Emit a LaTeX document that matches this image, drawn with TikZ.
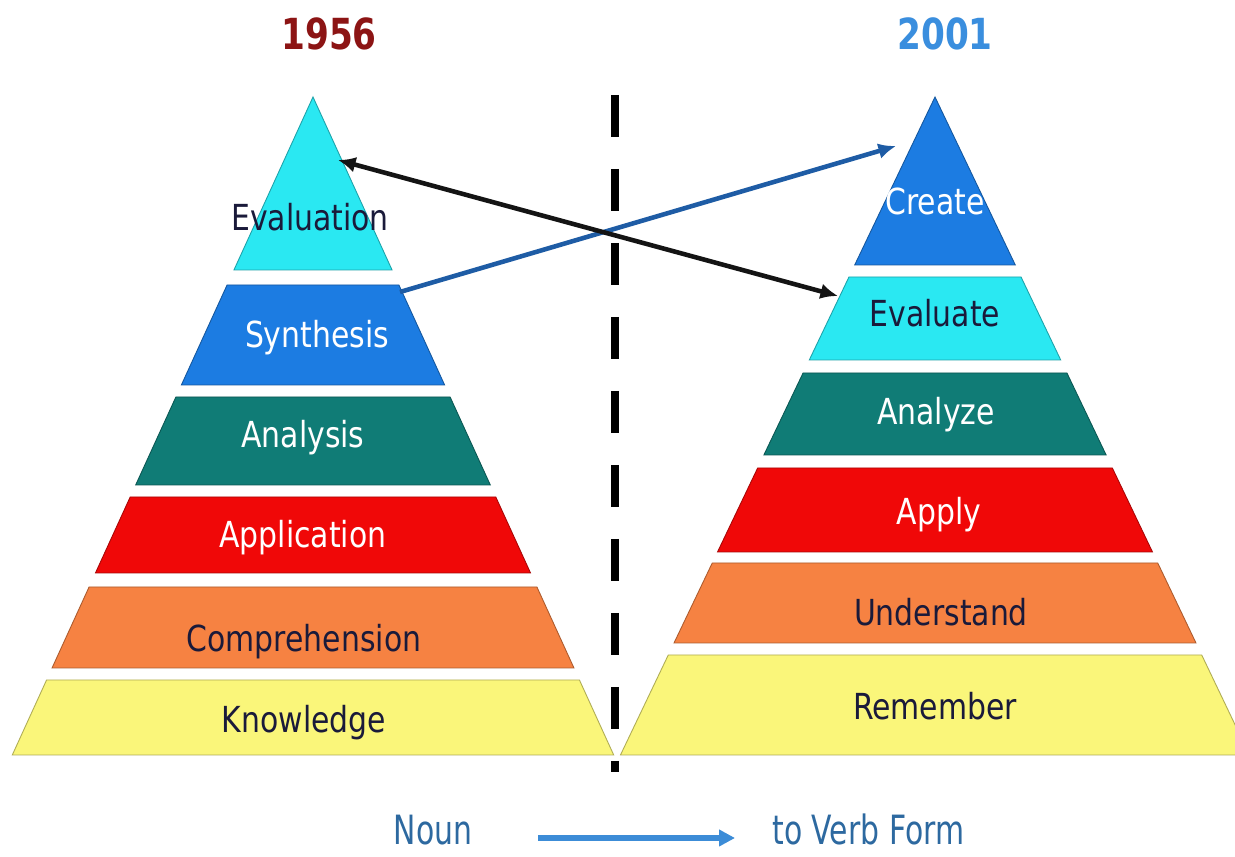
\documentclass[tikz,border=0pt]{standalone}
\usepackage{fontspec}
\setmainfont{DejaVu Sans}
\usetikzlibrary{arrows.meta}
\definecolor{cyanL}{RGB}{42,232,242}
\definecolor{blueL}{RGB}{28,124,226}
\definecolor{tealL}{RGB}{16,124,118}
\definecolor{redL}{RGB}{240,8,8}
\definecolor{orangeL}{RGB}{246,130,66}
\definecolor{yellowL}{RGB}{250,246,122}
\definecolor{darktxt}{RGB}{26,26,58}
\definecolor{titlered}{RGB}{140,20,20}
\definecolor{titleblue}{RGB}{58,142,222}
\definecolor{arrowblue}{RGB}{30,92,165}
\definecolor{botblue}{RGB}{60,140,215}
\definecolor{nountxt}{RGB}{45,105,160}
\newcommand{\tallA}[1]{\scalebox{1}[1.2]{#1}}
\newcommand{\tallB}[1]{\scalebox{1}[1.25]{#1}}
\newcommand{\tallC}[1]{\scalebox{1}[1.35]{#1}}
% #1 cx, #2 slope, #3 apex y, #4 top y, #5 bottom y, #6 colour
\newcommand{\pyrlayer}[6]{%
  \fill[#6, draw=#6!70!black, line width=0.5pt]
    ({#1-#2*(#4-#3)},#4) -- ({#1+#2*(#4-#3)},#4) --
    ({#1+#2*(#5-#3)},#5) -- ({#1-#2*(#5-#3)},#5) -- cycle;}
\begin{document}
\begin{tikzpicture}[x=0.02cm,y=-0.02cm,
  lbl/.style={font=\fontsize{17}{17}\selectfont, anchor=base, inner sep=0pt},
  dk/.style={lbl, text=darktxt},
  wt/.style={lbl, text=white},
  ttl/.style={font=\bfseries\fontsize{19.5}{19.5}\selectfont, anchor=base, inner sep=0pt},
  bot/.style={font=\fontsize{17}{17}\selectfont, anchor=base, inner sep=0pt, text=nountxt},
  linkarrow/.style={line width=2.6pt, -{Latex[length=10pt,width=9pt]}}]
\useasboundingbox (0,0) rectangle (1235,857);
\fill[white] (0,0) rectangle (1235,857);

% titles
\node[ttl, text=titlered] (t1956) at (329,50) {\tallB{1956}};
\node[ttl, text=titleblue] (t2001) at (945,50) {\tallB{2001}};

% left pyramid (1956)
\pyrlayer{313}{0.457}{97}{97}{270}{cyanL}
\pyrlayer{313}{0.457}{97}{285}{385}{blueL}
\pyrlayer{313}{0.457}{97}{397}{485}{tealL}
\pyrlayer{313}{0.457}{97}{497}{573}{redL}
\pyrlayer{313}{0.457}{97}{587}{668}{orangeL}
\pyrlayer{313}{0.457}{97}{680}{755}{yellowL}

% right pyramid (2001)
\pyrlayer{935}{0.478}{97}{97}{265}{blueL}
\pyrlayer{935}{0.478}{97}{277}{360}{cyanL}
\pyrlayer{935}{0.478}{97}{373}{455}{tealL}
\pyrlayer{935}{0.478}{97}{468}{552}{redL}
\pyrlayer{935}{0.478}{97}{563}{643}{orangeL}
\pyrlayer{935}{0.478}{97}{655}{755}{yellowL}

% left labels
\node[dk] (evaluation) at (310,231) {\tallA{Evaluation}};
\node[wt] (synthesis) at (317,348) {\tallA{Synthesis}};
\node[wt] (analysis) at (303,448) {\tallA{Analysis}};
\node[wt] (application) at (303,548) {\tallA{Application}};
\node[dk] (comprehension) at (304,652) {\tallA{Comprehension}};
\node[dk] (knowledge) at (304,733) {\tallA{Knowledge}};

% right labels
\node[wt] (create) at (935,215) {\tallA{Create}};
\node[dk] (evaluate) at (935,327) {\tallA{Evaluate}};
\node[wt] (analyze) at (936,425) {\tallA{Analyze}};
\node[wt] (apply) at (939,525) {\tallA{Apply}};
\node[dk] (understand) at (941,626) {\tallA{Understand}};
\node[dk] (remember) at (935,720) {\tallA{Remember}};

% divider
\coordinate (divtop) at (615,95);
\coordinate (divbot) at (615,772);
\draw[black, line width=4pt, dash pattern=on 0.84cm off 0.64cm] (divtop) -- (divbot);

% crossing arrows
\coordinate (evalL) at (338,160);
\coordinate (evalR) at (838,296);
\coordinate (synthL) at (400,292);
\coordinate (createR) at (896,146);
\draw[linkarrow, arrowblue] (synthL) -- (createR);
\draw[linkarrow, black!92, {Latex[length=10pt,width=9pt]}-{Latex[length=10pt,width=9pt]}] (evalL) -- (evalR);

% bottom legend
\node[bot] (noun) at (433,845) {\tallC{Noun}};
\node[bot, anchor=base west] (verb) at (772,845) {\tallC{to Verb Form}};
\coordinate (nvA) at (538,838);
\coordinate (nvB) at (735,838);
\draw[botblue, line width=3pt, -{Triangle[length=9pt,width=9pt]}] (nvA) -- (nvB);
\end{tikzpicture}
\end{document}
